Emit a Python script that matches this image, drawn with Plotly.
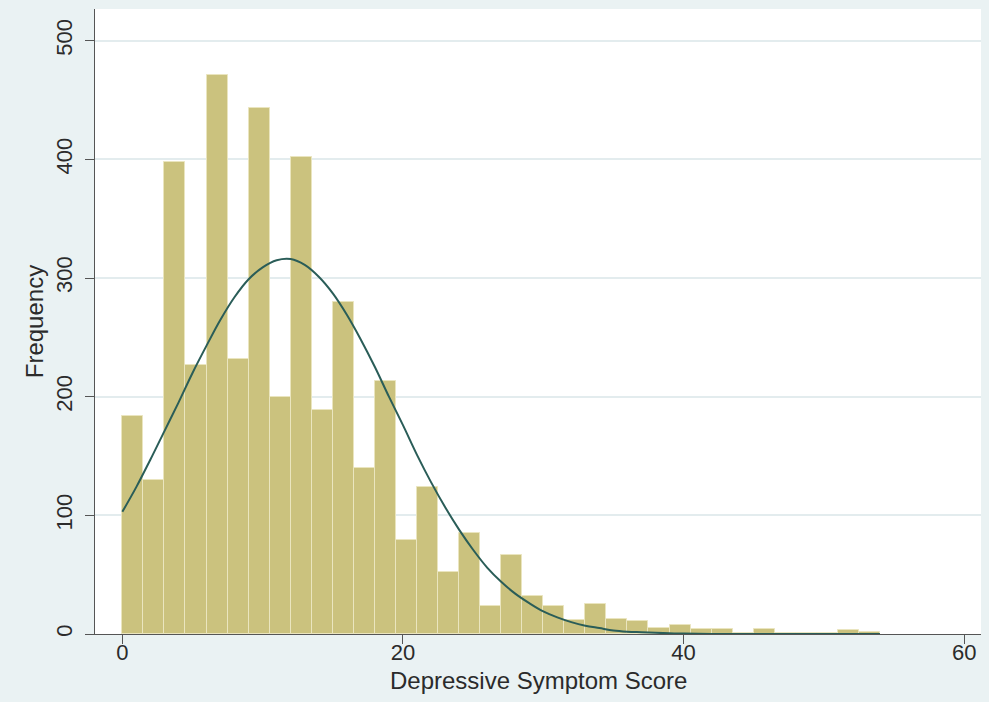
import numpy as np
import plotly.graph_objects as go

# Histogram: bin width 1.5, bins from 0 to 54
bin_width = 1.5
bin_starts = np.arange(0, 54, bin_width)
freq = [184, 130, 398, 227, 471, 232, 443, 200, 402, 189, 280, 140, 213, 79,
        124, 52, 85, 24, 67, 32, 24, 12, 25, 13, 11, 5, 8, 4, 4, 1, 4, 1, 1, 1, 3, 2]

# Normal density overlay
curve_x = [0, 1, 2, 3, 4, 5, 6, 7, 8, 9, 10, 11, 12, 13, 14, 15, 16, 17, 18, 19, 20,
           21, 22, 23, 24, 25, 26, 27, 28, 29, 30, 31, 32, 33, 34, 35, 36, 37, 38, 39, 40,
           42, 45, 48, 51, 54]
curve_y = [103, 124, 147, 171, 195, 220, 243, 265, 284, 299, 309, 315, 316, 311, 301, 287,
           269, 248, 225, 200, 176, 151, 128, 107, 88, 71, 56, 44, 34, 26, 19, 14, 10, 7, 5,
           3, 2, 1.5, 1, 0.6, 0.4, 0.1, 0, 0, 0, 0]

x_ticks = [0, 20, 40, 60]
y_ticks = [0, 100, 200, 300, 400, 500]
x_title = "Depressive Symptom Score"
y_title = "Frequency"

bar_color = "#CBC27E"
bar_edge = "#EAE5BF"
line_color = "#2A5D58"
bg = "#EAF2F3"
font_family = "Liberation Sans, Arial, sans-serif"

fig = go.Figure()
fig.add_trace(go.Bar(
    x=bin_starts + bin_width / 2, y=freq, width=bin_width,
    marker=dict(color=bar_color, line=dict(color=bar_edge, width=1)),
    showlegend=False, hoverinfo="x+y"))
fig.add_trace(go.Scatter(
    x=curve_x, y=curve_y, mode="lines", line=dict(color=line_color, width=2, shape="spline"),
    showlegend=False))

fig.update_layout(
    width=989, height=702,
    margin=dict(l=95, r=8, t=9, b=68),
    paper_bgcolor=bg, plot_bgcolor="white",
    font=dict(family=font_family, size=22, color="#2b2b2b"),
    bargap=0,
    annotations=[
        dict(text=x_title, xref="paper", yref="paper", x=0.5, y=-0.075,
             xanchor="center", yanchor="middle", showarrow=False, font=dict(size=24)),
        dict(text=y_title, xref="paper", yref="paper", x=-0.068, y=0.5, textangle=-90,
             xanchor="center", yanchor="middle", showarrow=False, font=dict(size=24)),
    ],
)
fig.update_xaxes(
    range=[-1.95, 61.2], tickvals=x_ticks, ticks="outside", ticklen=9, tickcolor="#555555",
    showline=True, linecolor="#555555", linewidth=1, showgrid=False, zeroline=False,
    tickfont=dict(size=22), automargin=False, ticklabelstandoff=-10,
)
fig.update_yaxes(
    range=[0, 526.7], tickvals=y_ticks, ticks="outside", ticklen=9, tickcolor="#555555",
    showline=True, linecolor="#555555", linewidth=1, showgrid=True, gridcolor="#E3ECEE",
    gridwidth=1.5, zeroline=False, tickangle=-90, tickfont=dict(size=22), automargin=False,
    ticklabelstandoff=4,
)

fig.write_html("out.html", post_script="document.body.style.margin='0';",
               config={"displayModeBar": False})
